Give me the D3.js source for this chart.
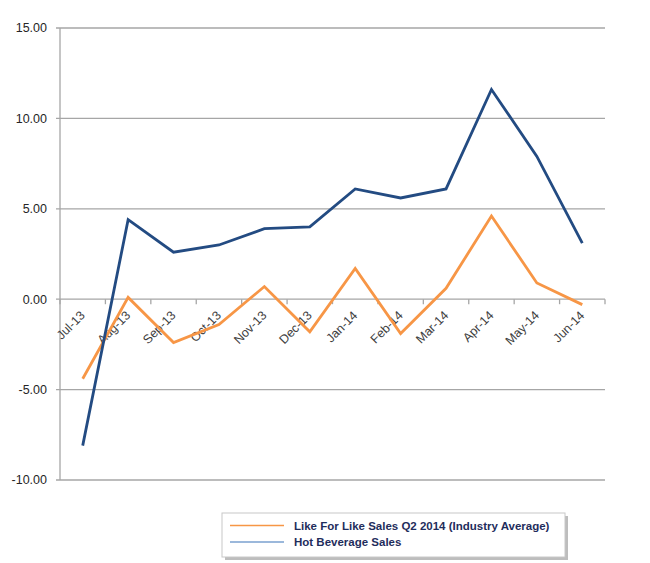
<!DOCTYPE html>
<html>
<head>
<meta charset="utf-8">
<script src="https://cdn.jsdelivr.net/npm/d3@7"></script>
<style>
  body { margin: 0; background: #fff; }
  text { font-family: "Liberation Sans", Arial, sans-serif; }
</style>
</head>
<body>
<div id="main"></div>
<script>
// Chart data
var months = ['Jul-13', 'Aug-13', 'Sep-13', 'Oct-13', 'Nov-13', 'Dec-13',
              'Jan-14', 'Feb-14', 'Mar-14', 'Apr-14', 'May-14', 'Jun-14'];
var likeForLike = [-4.4, 0.1, -2.4, -1.4, 0.7, -1.8, 1.7, -1.9, 0.6, 4.6, 0.9, -0.3];
var hotBeverage = [-8.1, 4.4, 2.6, 3.0, 3.9, 4.0, 6.1, 5.6, 6.1, 11.6, 7.9, 3.1];
var yTicks = [-10, -5, 0, 5, 10, 15];
var seriesNames = ['Like For Like Sales Q2 2014 (Industry Average)', 'Hot Beverage Sales'];

var svgWidth = 650;
var svgHeight = 563;
var plot = {l: 60, r: 605, t: 28, b: 480};

var orange = '#f79646';
var navy = '#234b82';

var svg = d3.select('#main')
  .append('svg')
  .attr('width', svgWidth)
  .attr('height', svgHeight);

var xScale = d3.scaleBand().domain(months).range([plot.l, plot.r]).padding(0);
var yScale = d3.scaleLinear().domain([-10, 15]).range([plot.b, plot.t]);

// horizontal gridlines
svg.append('g')
  .selectAll('line')
  .data(yTicks)
  .enter()
  .append('line')
  .attr('x1', plot.l - 4)
  .attr('x2', plot.r)
  .attr('y1', function(d) { return yScale(d); })
  .attr('y2', function(d) { return yScale(d); })
  .attr('stroke', '#a6a6a6')
  .attr('stroke-width', 1.3);

// y-axis line
svg.append('line')
  .attr('x1', plot.l).attr('x2', plot.l)
  .attr('y1', plot.t).attr('y2', plot.b)
  .attr('stroke', '#a6a6a6')
  .attr('stroke-width', 1.3);

// y-axis labels (hyphen minus, like the original)
svg.append('g')
  .selectAll('text')
  .data(yTicks)
  .enter()
  .append('text')
  .attr('x', 47)
  .attr('y', function(d) { return yScale(d); })
  .attr('dy', '0.35em')
  .attr('text-anchor', 'end')
  .attr('font-size', 12.5)
  .attr('fill', '#262626')
  .text(function(d) { return d.toFixed(2); });

// category ticks along zero line
var tickXs = months.map(function(m) { return xScale(m); }).concat([plot.r]);
svg.append('g')
  .selectAll('line')
  .data(tickXs)
  .enter()
  .append('line')
  .attr('x1', function(d) { return d; })
  .attr('x2', function(d) { return d; })
  .attr('y1', yScale(0))
  .attr('y2', yScale(0) + 5)
  .attr('stroke', '#a6a6a6')
  .attr('stroke-width', 1.3);

// category labels, rotated
svg.append('g')
  .selectAll('text')
  .data(months)
  .enter()
  .append('text')
  .attr('text-anchor', 'end')
  .attr('font-size', 12.5)
  .attr('fill', '#404040')
  .attr('transform', function(d) {
    var x = xScale(d) + xScale.bandwidth() / 2 + 3;
    var y = yScale(0) + 17;
    return 'translate(' + x + ',' + y + ') rotate(-45)';
  })
  .text(function(d) { return d; });

var line = d3.line()
  .x(function(d, i) { return xScale(months[i]) + xScale.bandwidth() / 2; })
  .y(function(d) { return yScale(d); });

svg.append('path')
  .datum(likeForLike)
  .attr('d', line)
  .attr('fill', 'none')
  .attr('stroke', orange)
  .attr('stroke-width', 2.8)
  .attr('stroke-linejoin', 'miter');

svg.append('path')
  .datum(hotBeverage)
  .attr('d', line)
  .attr('fill', 'none')
  .attr('stroke', navy)
  .attr('stroke-width', 2.8)
  .attr('stroke-linejoin', 'miter');

// legend
var legend = svg.append('g');
legend.append('rect')
  .attr('x', 225).attr('y', 516)
  .attr('width', 343).attr('height', 44)
  .attr('fill', '#bdbdbd');
legend.append('rect')
  .attr('x', 222).attr('y', 513)
  .attr('width', 343).attr('height', 44)
  .attr('fill', '#fff')
  .attr('stroke', '#c8c8c8')
  .attr('stroke-width', 1);

var legendColors = [orange, '#7aa0cf'];
seriesNames.forEach(function(name, i) {
  var y = 525.5 + i * 16.5;
  legend.append('line')
    .attr('x1', 230).attr('x2', 284)
    .attr('y1', y).attr('y2', y)
    .attr('stroke', legendColors[i])
    .attr('stroke-width', 1.6);
  legend.append('text')
    .attr('x', 294).attr('y', y)
    .attr('dy', '0.35em')
    .attr('font-size', 11.5)
    .attr('font-weight', 'bold')
    .attr('fill', '#1f2d5c')
    .text(name);
});
</script>
</body>
</html>
